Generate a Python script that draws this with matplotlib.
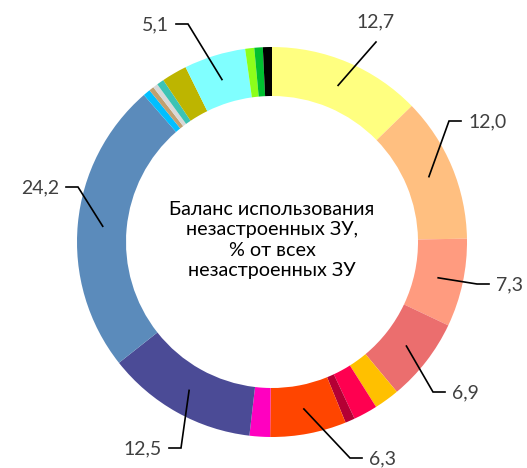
import numpy as np
import matplotlib.pyplot as plt

plt.rcParams['font.family'] = ['Lato', 'DejaVu Sans']

# Shares of undeveloped land plots, clockwise from the top
shares = [12.7, 12.0, 7.3, 6.9, 2.1, 2.0, 0.8, 6.3, 1.7, 12.5, 24.2,
          0.6, 0.4, 0.4, 0.6, 2.1, 5.1, 0.75, 0.7, 0.75]
colors = ['#FFFF80', '#FFBF80', '#FF9B7F', '#EB6E6E', '#FFC000', '#FF0050',
          '#B40034', '#FF4500', '#FF00C0', '#4B4B96', '#5B8BBB',
          '#00BFFF', '#C0A070', '#D8D8D8', '#3CC3B4', '#BDB500', '#80FFFF',
          '#8CFF1A', '#00C030', '#000000']
labels = ['12,7', '12,0', '7,3', '6,9', '', '', '', '6,3', '', '12,5', '24,2',
          '', '', '', '', '', '5,1', '', '', '']

# elbow of each leader line, label side (pixel coords, y down)
elbows = {0: (376, 42, None), 1: (449, 121, 'r'), 2: (477, 284, 'r'),
          3: (433, 392, 'r'), 7: (350, 458, 'r'), 9: (181, 448, 'l'),
          10: (78, 187, 'l'), 16: (188, 24, 'l')}

W, H = 527, 468
cx, cy = 272, 242
R = 195

fig = plt.figure(figsize=(W / 100, H / 100), dpi=100)
ax = fig.add_axes([0, 0, 1, 1])
ax.axis('off')

ax.pie(shares, colors=colors, startangle=90, counterclock=False,
       center=(cx, H - cy), radius=R,
       wedgeprops=dict(width=49, edgecolor='none'))
ax.set_xlim(0, W)
ax.set_ylim(0, H)
ax.set_aspect('equal')

total = sum(shares)
start = 0.0
for i, (v, lab) in enumerate(zip(shares, labels)):
    mid = start + v / 2
    start += v
    if not lab:
        continue
    ang = np.deg2rad(mid / total * 360)
    ax_pt = (cx + 170 * np.sin(ang), H - (cy - 170 * np.cos(ang)))
    ex, ey, side = elbows[i]
    ey = H - ey
    xs, ys = [ax_pt[0], ex], [ax_pt[1], ey]
    if side == 'r':
        xs.append(ex + 12)
        ys.append(ey)
        ax.text(ex + 19, ey - 1, lab, fontsize=14, color='#404040',
                ha='left', va='center')
    elif side == 'l':
        xs.append(ex - 12)
        ys.append(ey)
        ax.text(ex - 19, ey - 1, lab, fontsize=14, color='#404040',
                ha='right', va='center')
    else:
        ax.text(ex, ey + 20, lab, fontsize=14, color='#404040',
                ha='center', va='center')
    ax.plot(xs, ys, color='black', lw=1.2, solid_joinstyle='miter')

ax.text(cx, H - 240, 'Баланс использования\nнезастроенных ЗУ,\n% от всех\nнезастроенных ЗУ',
        fontsize=14.2, color='black', ha='center', va='center', linespacing=1.25)

fig.savefig('out.png', dpi=100)
